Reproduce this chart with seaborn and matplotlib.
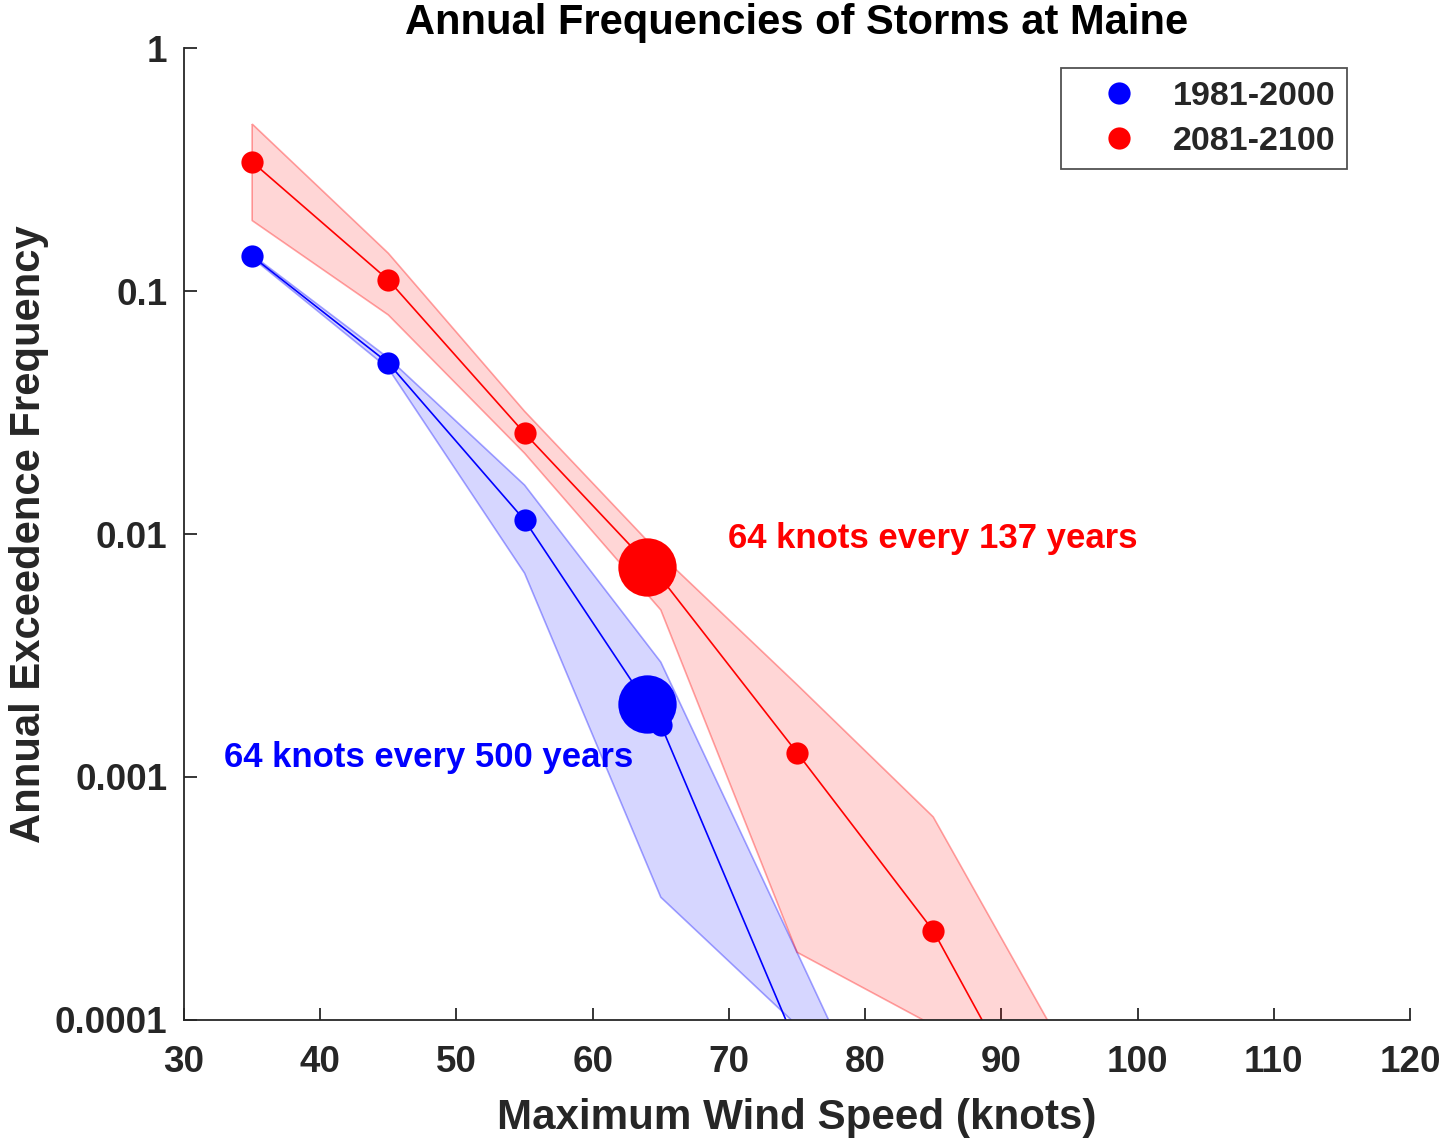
import numpy as np
import matplotlib
matplotlib.use("Agg")
import matplotlib.pyplot as plt
from matplotlib.lines import Line2D
import seaborn as sns

# wind speed bins (knots)
wind = [35, 45, 55, 65, 75, 85, 95, 105, 115]

# 1981-2000 annual exceedance frequency, mean and band
hist_mean = [0.139, 0.0505, 0.0114, 0.00164, 7.8e-5, 0, 0, 0, 0]
hist_lo = [0.137, 0.048, 0.0069, 0.00032, 9.5e-5, 0, 0, 0, 0]
hist_hi = [0.141, 0.053, 0.0159, 0.00297, 1.9e-4, 1.2e-5, 0, 0, 0]

# 2081-2100
fut_mean = [0.34, 0.111, 0.026, 0.0066, 0.00126, 0.000233, 2.2e-5, 0, 0]
fut_lo = [0.195, 0.0797, 0.0215, 0.00487, 1.9e-4, 9.5e-5, 0, 0, 0]
fut_hi = [0.487, 0.143, 0.032, 0.0082, 0.0024, 0.000685, 6.9e-5, 0, 0]

# 64 knot return levels
hurricane_speed = 64
hist_64 = 1 / 500
fut_64 = 1 / 137

periods = ["1981-2000", "2081-2100"]
colors = ["#0000ff", "#ff0000"]

sns.set_style("ticks")
plt.rcParams["font.family"] = ["Liberation Sans", "DejaVu Sans"]
plt.rcParams["font.weight"] = "bold"

fig = plt.figure(figsize=(14.41, 11.38), dpi=100)
ax = fig.add_axes([0.1277, 0.1037, 0.8508, 0.8541])

x = np.array(wind)
series = [(hist_mean, hist_lo, hist_hi), (fut_mean, fut_lo, fut_hi)]
for (m, lo, hi), c in zip(series, colors):
    ax.fill_between(x, lo, hi, facecolor=c, alpha=0.16, edgecolor="none")
    ax.fill_between(x, lo, hi, facecolor="none", edgecolor=c, alpha=0.35, linewidth=1.2)
    m = np.array(m, dtype=float)
    m[m == 0] = np.nan
    sns.lineplot(x=x, y=m, color=c, marker="o", markersize=16, markeredgewidth=0,
                 linewidth=1.2, ax=ax, legend=False)

ax.plot([hurricane_speed], [hist_64], "o", color=colors[0], markersize=42, markeredgewidth=0)
ax.plot([hurricane_speed], [fut_64], "o", color=colors[1], markersize=42, markeredgewidth=0)

ax.set_yscale("log")
ax.set_xlim(30, 120)
ax.set_ylim(1e-4, 1)
ax.set_xticks(range(30, 121, 10))
ax.set_yticks([1e-4, 1e-3, 1e-2, 1e-1, 1])
ax.set_yticklabels(["0.0001", "0.001", "0.01", "0.1", "1"])
ax.minorticks_off()

ax.text(32.9, 0.0012, "64 knots every 500 years", color=colors[0], fontsize=25,
        fontweight="bold", va="center")
ax.text(69.9, 0.0096, "64 knots every 137 years", color=colors[1], fontsize=25,
        fontweight="bold", va="center")

sns.despine(ax=ax)
for s in ["left", "bottom"]:
    ax.spines[s].set_color("#262626")
    ax.spines[s].set_linewidth(1.3)
ax.tick_params(direction="in", length=9, width=1.3, colors="#262626", labelsize=26.5)
ax.tick_params(axis="x", pad=18)
ax.tick_params(axis="y", pad=12)
for lab in ax.get_xticklabels() + ax.get_yticklabels():
    lab.set_fontweight("bold")

ax.set_title("Annual Frequencies of Storms at Maine", fontsize=30, fontweight="bold",
             color="black", pad=10)
ax.set_xlabel("Maximum Wind Speed (knots)", fontsize=30.3, fontweight="bold",
              color="#262626", labelpad=13)
ax.set_ylabel("Annual Exceedence Frequency", fontsize=30.1, fontweight="bold",
              color="#262626", labelpad=4)

handles = [Line2D([], [], marker="o", linestyle="none", color=c, markersize=16,
                  markeredgewidth=0) for c in colors]
leg = ax.legend(handles, periods, loc="upper right", bbox_to_anchor=(0.949, 0.979),
                fontsize=24.5, frameon=True, fancybox=False, handlelength=2.69,
                handletextpad=0.24, borderpad=0.36, labelspacing=0.42, borderaxespad=0)
leg.get_frame().set_edgecolor("#262626")
leg.get_frame().set_linewidth(1.3)
for t in leg.get_texts():
    t.set_fontweight("bold")

fig.savefig("out.png", dpi=100)
